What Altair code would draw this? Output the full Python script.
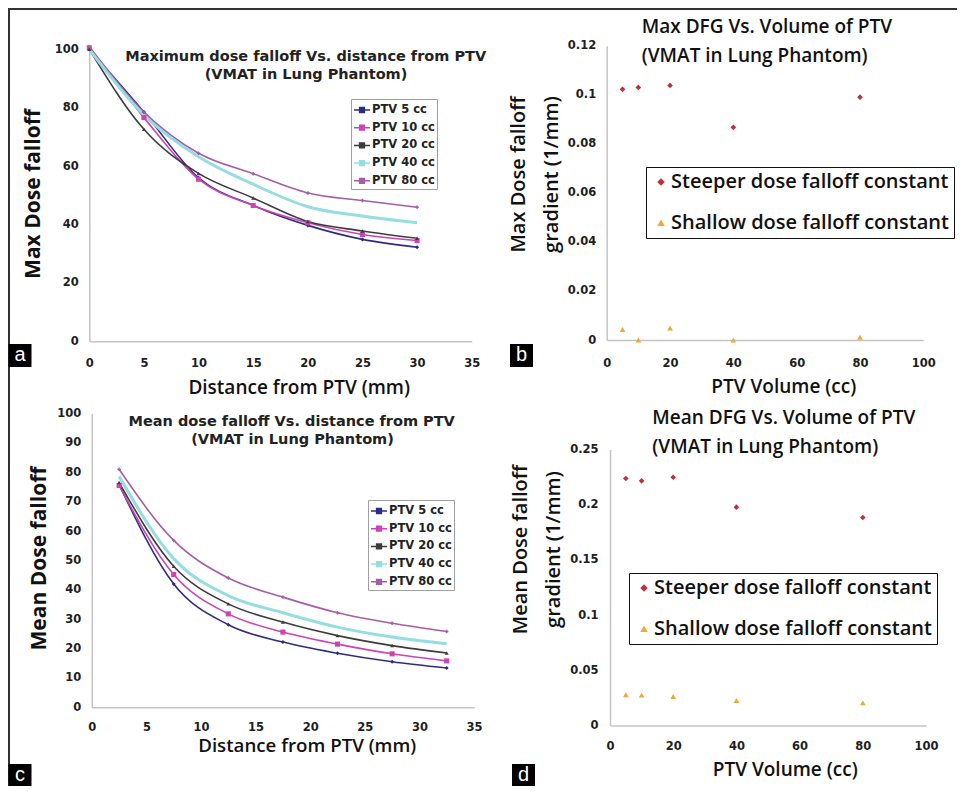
import altair as alt
import pandas as pd

# ---------------- data ----------------
series = ["PTV 5 cc", "PTV 10 cc", "PTV 20 cc", "PTV 40 cc", "PTV 80 cc"]

dist_max = [0, 5, 10, 15, 20, 25, 30]
max_ptv5 = [100, 78.5, 56.0, 46.5, 39.7, 34.9, 32.2]
max_ptv10 = [100.5, 76.6, 55.5, 46.5, 40.6, 36.6, 34.5]
max_ptv20 = [100, 72.6, 57.5, 49.1, 41.0, 37.8, 35.3]
max_ptv40 = [100, 77.5, 63.2, 53.8, 46.1, 42.9, 40.6]
max_ptv80 = [101, 78.5, 64.4, 57.4, 50.8, 48.2, 45.9]

dist_mean = [2.5, 7.5, 12.5, 17.5, 22.5, 27.5, 32.5]
mean_ptv5 = [75.8, 42.0, 28.1, 22.2, 18.4, 15.5, 13.4]
mean_ptv10 = [75.5, 45.2, 31.8, 25.6, 21.5, 18.2, 15.8]
mean_ptv20 = [76.5, 48.0, 35.2, 29.0, 24.4, 21.0, 18.5]
mean_ptv40 = [78.6, 50.6, 38.0, 32.2, 27.3, 23.9, 21.6]
mean_ptv80 = [81.0, 56.8, 44.0, 37.5, 32.2, 28.6, 25.8]

kinds = ["Steeper dose falloff constant", "Shallow dose falloff constant"]
volumes = [5, 10, 20, 40, 80]
max_steep = [0.1022, 0.1030, 0.1038, 0.0867, 0.0990]
max_shallow = [0.0043, 0.0000, 0.0049, 0.0000, 0.0011]
mean_steep = [0.2237, 0.2216, 0.2249, 0.1978, 0.1884]
mean_shallow = [0.0278, 0.0275, 0.0263, 0.0226, 0.0205]

# ---------------- styling ----------------
W, H = 949, 778
line_colors = ["#2f2c80", "#cc44b4", "#3c3c3c", "#95dde0", "#a45ea8"]
# marker per series (PTV 40 cc is drawn as a line only)
marker_style = {"PTV 5 cc": ("diamond", 16), "PTV 10 cc": ("square", 26),
                "PTV 20 cc": ("triangle-up", 16), "PTV 80 cc": ("cross", 12)}
scatter_colors = ["#c0303a", "#f0a830"]
legend_line_symbol = "M-1,0H1M-0.3,-0.3H0.3V0.3H-0.3Z"


def curves(xs, ys_list):
    rows = []
    for name, ys in zip(series, ys_list):
        for x, y in zip(xs, ys):
            rows.append({"x": x, "y": y, "series": name})
    return pd.DataFrame(rows)


def scatter_df(steep, shallow):
    rows = []
    for kind, vals in zip(kinds, [steep, shallow]):
        for v, y in zip(volumes, vals):
            rows.append({"x": v, "y": y, "kind": kind})
    return pd.DataFrame(rows)


def axis(**kw):
    base = dict(grid=False, ticks=False, domainColor="#c4c4c4", domainWidth=1.5,
                labelFont="DejaVu Sans", labelFontWeight="bold", labelFontSize=11.5,
                labelColor="#1e1e1e", labelOverlap=False, labelFlush=False,
                titleFont="Open Sans", titleFontWeight=600, titleColor="#111111",
                titleAlign="center", titleBaseline="middle")
    base.update(kw)
    return alt.Axis(**base)


def line_legend(lx, ly):
    return alt.Legend(orient="none", legendX=lx, legendY=ly, title=None,
                      fillColor="white", strokeColor="#a0a0a0", padding=2,
                      labelFont="DejaVu Sans", labelFontWeight="bold", labelFontSize=11.5,
                      labelColor="#222222", symbolType=legend_line_symbol, symbolSize=256,
                      symbolStrokeWidth=1.5, rowPadding=2.7, labelOffset=1, labelLimit=300)


def scatter_legend(lx, ly):
    return alt.Legend(orient="none", legendX=lx, legendY=ly, title=None,
                      fillColor="white", strokeColor="#111111", padding=5,
                      labelFont="Open Sans", labelFontWeight=600, labelFontSize=20,
                      labelColor="#111111", symbolSize=55, rowPadding=20.7, labelOffset=0,
                      labelLimit=500)


def line_panel(df, xdom, xrange, ydom, yrange, xaxis, yaxis, legend):
    X = alt.X("x:Q", scale=alt.Scale(domain=xdom, range=xrange, nice=False, zero=False), axis=xaxis)
    Y = alt.Y("y:Q", scale=alt.Scale(domain=ydom, range=yrange, nice=False, zero=False), axis=yaxis)
    C = alt.Color("series:N", scale=alt.Scale(domain=series, range=line_colors), sort=series, legend=legend)
    base = alt.Chart(df)
    layers = [
        base.transform_filter(alt.datum.series != "PTV 40 cc").mark_line(
            interpolate="monotone", strokeWidth=1.6).encode(X, Y, C),
        base.transform_filter(alt.datum.series == "PTV 40 cc").mark_line(
            interpolate="monotone", strokeWidth=3).encode(X, Y, C),
    ]
    for name, (shp, sz) in marker_style.items():
        layers.append(base.transform_filter(alt.datum.series == name).mark_point(
            filled=True, opacity=1, shape=shp, size=sz).encode(X, Y, C))
    return alt.layer(*layers)


def scatter_panel(df, xrange, ydom, yrange, xaxis, yaxis, legend):
    X = alt.X("x:Q", scale=alt.Scale(domain=[0, 100], range=xrange, nice=False, zero=False), axis=xaxis)
    Y = alt.Y("y:Q", scale=alt.Scale(domain=ydom, range=yrange, nice=False, zero=False), axis=yaxis)
    return alt.Chart(df).mark_point(filled=True, size=32, opacity=1).encode(
        X, Y,
        color=alt.Color("kind:N", scale=alt.Scale(domain=kinds, range=scatter_colors), sort=kinds, legend=legend),
        shape=alt.Shape("kind:N", scale=alt.Scale(domain=kinds, range=["diamond", "triangle-up"]), sort=kinds, legend=legend))


# ---------------- panels ----------------
panel_a = line_panel(
    curves(dist_max, [max_ptv5, max_ptv10, max_ptv20, max_ptv40, max_ptv80]),
    [0, 35], [81.3, 463.7], [0, 100], [333.3, 41.3],
    axis(orient="bottom", offset=333.3 - H, values=list(range(0, 36, 5)), labelPadding=16,
         title="Distance from PTV (mm)", titleFontSize=19, titleX=290.7, titleY=46.5),
    axis(orient="left", offset=-81.3, values=list(range(0, 101, 20)), labelPadding=11,
         title="Max Dose falloff", titleFontSize=21, titleFontWeight="bold", titleAngle=270,
         titleX=-56.3, titleY=185.5),
    line_legend(343, 91))

panel_c = line_panel(
    curves(dist_mean, [mean_ptv5, mean_ptv10, mean_ptv20, mean_ptv40, mean_ptv80]),
    [0, 35], [83.8, 466.0], [0, 100], [699.3, 405.5],
    axis(orient="bottom", offset=699.3 - H, values=list(range(0, 36, 5)), labelPadding=14,
         title="Distance from PTV (mm)", titleFontSize=18.7, titleX=298.7, titleY=38.5),
    axis(orient="left", offset=-83.8, values=list(range(0, 101, 10)), labelPadding=11,
         title="Mean Dose falloff", titleFontSize=21, titleFontWeight="bold", titleAngle=270,
         titleX=-52.8, titleY=550),
    line_legend(360, 492))

panel_b = scatter_panel(
    scatter_df(max_steep, max_shallow),
    [598.7, 915.3], [0, 0.12], [332, 37.7],
    axis(orient="bottom", offset=332 - H, values=[0, 20, 40, 60, 80, 100], labelPadding=17,
         title="PTV Volume (cc)", titleFontSize=19, titleX=775.3, titleY=46.7),
    axis(orient="left", offset=-598.7, values=[0, 0.02, 0.04, 0.06, 0.08, 0.1, 0.12], format=".3~g",
         labelPadding=11, title=["Max Dose falloff", "gradient (1/mm)"], titleFontSize=20,
         titleAngle=270, titleLineHeight=33.7, titleX=-88.7, titleY=166),
    scatter_legend(638, 159))

panel_d = scatter_panel(
    scatter_df(mean_steep, mean_shallow),
    [602, 918], [0, 0.25], [717.5, 441.5],
    axis(orient="bottom", offset=717.5 - H, values=[0, 20, 40, 60, 80, 100], labelPadding=15,
         title="PTV Volume (cc)", titleFontSize=19, titleX=776.7, titleY=43.5),
    axis(orient="left", offset=-602, values=[0, 0.05, 0.1, 0.15, 0.2, 0.25], format=".3~g",
         labelPadding=12, title=["Mean Dose falloff", "gradient (1/mm)"], titleFontSize=20,
         titleAngle=270, titleLineHeight=32.6, titleX=-89.3, titleY=541),
    scatter_legend(621, 565))

# ---------------- decorations ----------------
one = pd.DataFrame({"t": [""]})


def text(s, x, y, **mk):
    return alt.Chart(pd.DataFrame({"t": [s]})).mark_text(**mk).encode(
        x=alt.value(x), y=alt.value(y), text="t:N")


title_small = dict(font="DejaVu Sans", fontWeight="bold", fontSize=14.5, color="#222222",
                   align="center", baseline="middle")
title_big = dict(font="Open Sans", fontWeight=600, fontSize=19, color="#111111",
                 align="left", baseline="middle")

decor = [
    alt.Chart(one).mark_rule(color="#333333", strokeWidth=2).encode(
        x=alt.value(0), x2=alt.value(W), y=alt.value(1)),
    alt.Chart(one).mark_rule(color="#333333", strokeWidth=2).encode(
        x=alt.value(1), y=alt.value(0), y2=alt.value(H)),
    text("Maximum dose falloff Vs. distance from PTV", 297.7, 48.7, **title_small),
    text("(VMAT in Lung Phantom)", 298, 67, **title_small),
    text("Mean dose falloff Vs. distance from PTV", 283.7, 413.7, **title_small),
    text("(VMAT in Lung Phantom)", 284.5, 432, **title_small),
    text("Max DFG Vs. Volume of PTV", 633.7, 18.7, **title_big),
    text("(VMAT in Lung Phantom)", 633.7, 48, **title_big),
    text("Mean DFG Vs. Volume of PTV", 644.3, 409.7, **title_big),
    text("(VMAT in Lung Phantom)", 644.3, 438.7, **title_big),
]

for lab, x0, y0 in [("a", 0.5, 336), ("b", 502, 336), ("c", 0.5, 756), ("d", 504, 756)]:
    decor.append(alt.Chart(one).mark_rect(color="black").encode(
        x=alt.value(x0), x2=alt.value(x0 + 23), y=alt.value(y0), y2=alt.value(min(y0 + 23, H))))
    decor.append(text(lab, x0 + 11.5, y0 + 11, font="Liberation Sans", fontSize=20,
                      color="white", align="center", baseline="middle"))

chart = alt.layer(panel_a, panel_b, panel_c, panel_d, *decor).resolve_scale(
    x="independent", y="independent", color="independent", shape="independent"
).resolve_axis(x="independent", y="independent").resolve_legend(
    color="independent", shape="independent"
).properties(
    width=W, height=H, padding=0, autosize=alt.AutoSizeParams(type="none"), background="white"
).configure_view(stroke=None)

chart.save("out.html", embed_options={"renderer": "svg", "actions": False})
